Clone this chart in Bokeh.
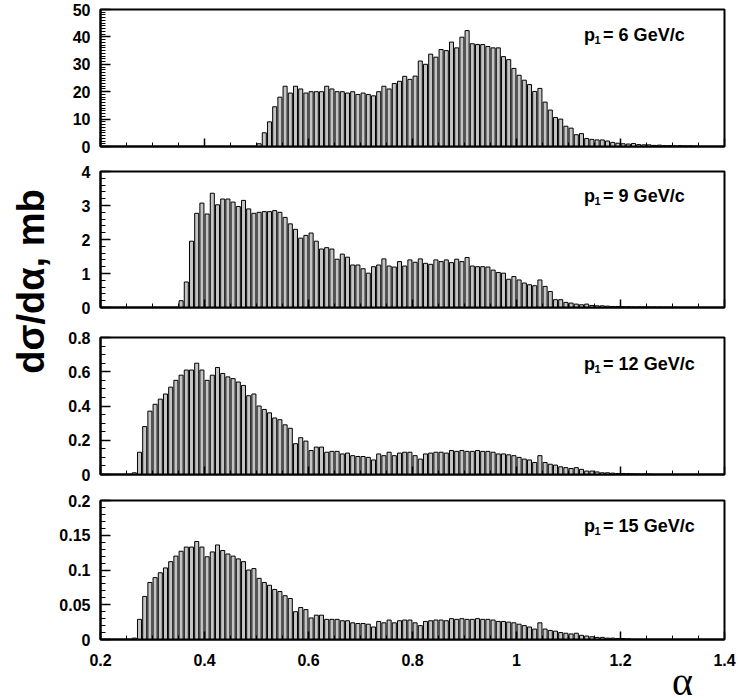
import math
from bokeh.plotting import figure
from bokeh.layouts import row, column
from bokeh.models import FixedTicker, CustomJSTickFormatter, Label, Range1d
from bokeh.embed import file_html
from bokeh.resources import INLINE

# ---------------- data (bin width 0.01 in alpha, value per bin) ----------------
BIN = 0.01
x_ticks = [0.2, 0.4, 0.6, 0.8, 1.0, 1.2, 1.4]

p6_start = 0.50
p6_vals = [1.0, 5, 9, 14.5, 18, 22, 19.5, 22, 21, 19.5, 20, 20, 20, 22, 21, 20, 20, 19.5,
           20, 19, 19.5, 19, 18.5, 20, 22, 21, 23, 23.8, 25.6, 24.5, 25.7, 31.2, 30, 33.7,
           32.6, 35.4, 35, 38.1, 36, 39.9, 42.3, 37.5, 37.2, 37.2, 36.5, 36, 36, 32.8, 31.7,
           28.5, 26, 24.2, 22.6, 20.1, 21.2, 16.2, 13.3, 10.6, 10, 7.4, 6.7, 4.3, 4.7, 2.9,
           2.6, 2.4, 2.4, 2.0, 1.5, 1.2, 1.0, 0.9, 1.1, 0.7, 0.6, 0.6, 0.4, 0.5, 0.3, 0.3,
           0.2, 0.3, 0.2, 0.2, 0.1]

p9_start = 0.35
p9_vals = [0.2, 0.75, 1.95, 2.77, 3.07, 2.75, 3.36, 3.02, 3.19, 3.19, 3.1, 2.97, 3.15, 2.9,
           2.77, 2.8, 2.82, 2.82, 2.85, 2.8, 2.65, 2.46, 2.3, 2.04, 2.12, 2.19, 1.95, 1.72,
           1.76, 1.72, 1.42, 1.57, 1.48, 1.25, 1.25, 1.14, 1.01, 1.2, 1.25, 1.43, 1.22, 1.19,
           1.35, 1.22, 1.4, 1.33, 1.43, 1.3, 1.27, 1.4, 1.35, 1.4, 1.32, 1.42, 1.35, 1.47,
           1.22, 1.2, 1.2, 1.19, 1.1, 1.03, 1.01, 0.83, 0.91, 0.81, 0.72, 0.67, 0.64, 0.81,
           0.62, 0.47, 0.23, 0.23, 0.15, 0.13, 0.1, 0.08, 0.1, 0.06, 0.05, 0.05, 0.04, 0.03,
           0.03, 0.02, 0.02, 0.015, 0.015, 0.01, 0.01, 0.01, 0.008, 0.006, 0.005, 0.005]

p12_start = 0.26
p12_vals = [0.01, 0.13, 0.28, 0.37, 0.41, 0.44, 0.47, 0.51, 0.55, 0.58, 0.61, 0.61, 0.65,
            0.61, 0.55, 0.58, 0.625, 0.59, 0.57, 0.56, 0.54, 0.52, 0.46, 0.47, 0.40, 0.38,
            0.36, 0.33, 0.32, 0.29, 0.27, 0.18, 0.215, 0.195, 0.14, 0.16, 0.16, 0.13, 0.135,
            0.135, 0.12, 0.125, 0.11, 0.105, 0.105, 0.10,
            0.085, 0.12, 0.11, 0.13, 0.11, 0.125, 0.13, 0.13, 0.11, 0.09, 0.12, 0.125, 0.13,
            0.13, 0.125, 0.14, 0.135, 0.14, 0.135, 0.135, 0.14, 0.135, 0.135, 0.13, 0.12,
            0.12, 0.115, 0.11, 0.10, 0.09, 0.085, 0.07, 0.11, 0.07, 0.06, 0.055, 0.045, 0.04,
            0.035, 0.04, 0.03, 0.02, 0.02, 0.015, 0.01, 0.01, 0.008, 0.006, 0.006, 0.005,
            0.004, 0.003, 0.003, 0.002]

p15_start = 0.26
p15_vals = [0.002, 0.029, 0.062, 0.082, 0.089, 0.096, 0.103, 0.112, 0.12, 0.127, 0.133,
            0.133, 0.141, 0.133, 0.119, 0.126, 0.136, 0.128, 0.123, 0.12, 0.116, 0.112, 0.1,
            0.102, 0.088, 0.082, 0.078, 0.072, 0.069, 0.063, 0.059, 0.04, 0.046, 0.043, 0.031,
            0.035, 0.035, 0.029, 0.029, 0.029, 0.027, 0.027, 0.024, 0.023, 0.023, 0.022,
            0.018, 0.026, 0.024, 0.028, 0.024, 0.027, 0.028, 0.028, 0.024, 0.02, 0.026, 0.027,
            0.028, 0.028, 0.027, 0.03, 0.029, 0.03, 0.029, 0.029, 0.03, 0.029, 0.029, 0.028,
            0.026, 0.026, 0.025, 0.024, 0.022, 0.02, 0.018, 0.015, 0.024, 0.015, 0.013, 0.012,
            0.01, 0.009, 0.008, 0.009, 0.006, 0.005, 0.004, 0.003, 0.003, 0.002, 0.002,
            0.0015, 0.0013, 0.001]

panels = [
    dict(start=p6_start, vals=p6_vals, ymax=50, yt=[0, 10, 20, 30, 40, 50],
         ym=[i * 1.0 for i in range(51)], num="6", ly=40.6, tb=9, fh=137, bb=12),
    dict(start=p9_start, vals=p9_vals, ymax=4, yt=[0, 1, 2, 3, 4],
         ym=[i * 0.2 for i in range(21)], num="9", ly=3.29, tb=13, fh=136, bb=14),
    dict(start=p12_start, vals=p12_vals, ymax=0.8, yt=[0, 0.2, 0.4, 0.6, 0.8],
         ym=[i * 0.05 for i in range(17)], num="12", ly=0.648, tb=16, fh=137, bb=12),
    dict(start=p15_start, vals=p15_vals, ymax=0.2, yt=[0, 0.05, 0.1, 0.15, 0.2],
         ym=[i * 0.01 for i in range(21)], num="15", ly=0.164, tb=14, fh=139, bb=29),
]

FONT = "Liberation Sans"
fmt_code = "return String(parseFloat(tick.toFixed(3)));"
STRIP_H = 29
LAB_W = 56
PANEL_W = 44 + 624 + 14
TOTAL_H = sum(pn["tb"] + pn["fh"] + pn["bb"] for pn in panels) + STRIP_H

figs = []
for k, pn in enumerate(panels):
    last = (k == len(panels) - 1)
    p = figure(frame_width=624, frame_height=pn["fh"],
               min_border_left=44, min_border_right=14,
               min_border_top=pn["tb"], min_border_bottom=pn["bb"],
               x_range=Range1d(0.2, 1.4), y_range=Range1d(0, pn["ymax"]),
               toolbar_location=None, output_backend="svg")
    p.grid.visible = False
    p.outline_line_color = "black"
    p.outline_line_width = 2
    p.background_fill_color = "white"
    p.border_fill_color = "white"

    xs = [round(pn["start"] + BIN * i + BIN / 2, 4) for i in range(len(pn["vals"]))]
    p.vbar(x=xs, top=pn["vals"], bottom=0, width=0.0078,
           fill_color="#c4c4c4", line_color="black", line_width=1)

    xa = p.xaxis[0]
    xa.ticker = FixedTicker(ticks=x_ticks, minor_ticks=[0.2 + 0.05 * i for i in range(25)])
    xa.formatter = CustomJSTickFormatter(code=fmt_code)
    xa.axis_line_width = 2
    xa.major_tick_in = 8
    xa.major_tick_out = 0
    xa.minor_tick_in = 4
    xa.minor_tick_out = 0
    xa.major_tick_line_width = 1.5
    xa.minor_tick_line_width = 1
    if last:
        xa.major_label_text_font = FONT
        xa.major_label_text_font_style = "bold"
        xa.major_label_text_font_size = "16px"
        xa.major_label_text_color = "black"
        xa.major_label_standoff = 14
    else:
        xa.major_label_text_font_size = "2px"
        xa.major_label_text_color = None
        xa.major_label_standoff = 0

    ya = p.yaxis[0]
    ya.ticker = FixedTicker(ticks=pn["yt"], minor_ticks=pn["ym"])
    ya.formatter = CustomJSTickFormatter(code=fmt_code)
    ya.axis_line_width = 2
    ya.major_tick_in = 10
    ya.major_tick_out = 0
    ya.minor_tick_in = 5
    ya.minor_tick_out = 0
    ya.major_tick_line_width = 1.5
    ya.minor_tick_line_width = 1
    ya.major_label_text_font = FONT
    ya.major_label_text_font_style = "bold"
    ya.major_label_text_font_size = "16px"
    ya.major_label_text_color = "black"
    ya.major_label_standoff = 10

    common = dict(text_font=FONT, text_font_style="bold", text_color="black",
                  text_baseline="middle")
    p.add_layout(Label(x=1.13, y=pn["ly"], text="p", text_font_size="18px", **common))
    p.add_layout(Label(x=1.13, y=pn["ly"], x_offset=10.5, y_offset=-5, text="1",
                       text_font_size="11px", **common))
    eq = "=  " + pn["num"] + " GeV/c" if len(pn["num"]) == 1 else "= " + pn["num"] + " GeV/c"
    p.add_layout(Label(x=1.13, y=pn["ly"], x_offset=19, text=eq, text_font_size="18px", **common))
    figs.append(p)

# strip under the bottom panel carrying the x-axis title (alpha), right-aligned as in the original
strip = figure(width=PANEL_W, height=STRIP_H, x_range=Range1d(0, 1), y_range=Range1d(0, 1),
               x_axis_type=None, y_axis_type=None, toolbar_location=None,
               output_backend="svg", min_border=0)
strip.outline_line_color = None
strip.add_layout(Label(x=(692 - LAB_W) / PANEL_W, y=1 - 13 / STRIP_H, text="α",
                       text_font="Liberation Serif", text_font_size="40px",
                       text_color="black", text_align="center", text_baseline="middle"))
figs.append(strip)

lab = figure(width=LAB_W, height=TOTAL_H, x_range=Range1d(0, 1), y_range=Range1d(0, 1),
             x_axis_type=None, y_axis_type=None, toolbar_location=None,
             output_backend="svg", min_border=0)
lab.outline_line_color = None
lab.add_layout(Label(x=30 / LAB_W, y=1 - 281 / TOTAL_H, text="dσ/dα, mb", angle=math.pi / 2,
                     text_align="center", text_baseline="middle", text_font=FONT,
                     text_font_style="bold", text_font_size="38px", text_color="black"))

layout = row(lab, column(*figs))
open("out.html", "w").write(file_html(layout, INLINE))
